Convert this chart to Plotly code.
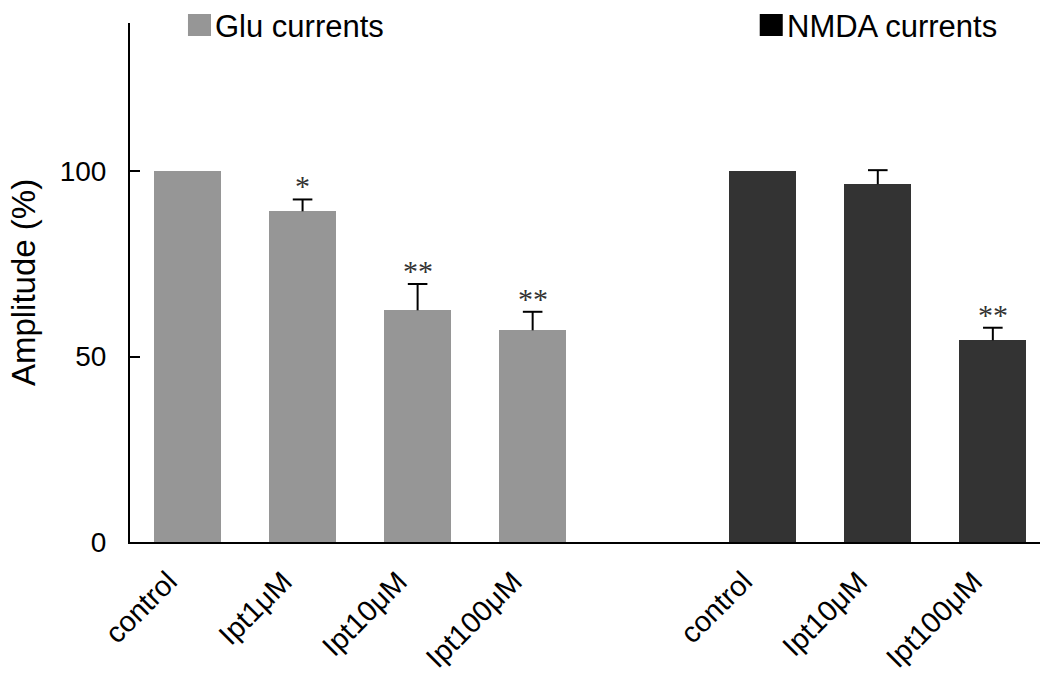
import plotly.graph_objects as go

# Glu-evoked currents (% of control)
glu_labels = ["control", "Ipt1μM", "Ipt10μM", "Ipt100μM"]
glu_values = [100, 89.2, 62.5, 57.1]
glu_errors = [None, 3.2, 7.1, 5.0]
glu_stars = ["", "*", "**", "**"]

# NMDA-evoked currents (% of control)
nmda_labels = ["control", "Ipt10μM", "Ipt100μM"]
nmda_values = [100, 96.5, 54.4]
nmda_errors = [None, 3.8, 3.4]
nmda_stars = ["", "", "**"]

y_ticks = [0, 50, 100]

GLU_COLOR = "#969696"
NMDA_COLOR = "#333333"
FONT = "Liberation Sans, Arial, sans-serif"
STAR_FONT = dict(family="Liberation Serif, Times New Roman, serif", size=30, color="#333333")

# slot positions: one empty slot separates the two groups
glu_x = list(range(len(glu_labels)))
nmda_x = [len(glu_labels) + 1 + i for i in range(len(nmda_labels))]

fig = go.Figure()
for xs, vals, color, name in ((glu_x, glu_values, GLU_COLOR, "Glu currents"),
                              (nmda_x, nmda_values, NMDA_COLOR, "NMDA currents")):
    fig.add_trace(go.Bar(x=xs, y=vals, width=0.58,
                         marker=dict(color=color, line_width=0),
                         name=name, showlegend=False))

# upward-only SEM bars: cap marker at the top, stem drawn down to the bar
for xs, vals, errs in ((glu_x, glu_values, glu_errors), (nmda_x, nmda_values, nmda_errors)):
    ex = [x for x, e in zip(xs, errs) if e]
    etop = [v + e for v, e in zip(vals, errs) if e]
    elen = [e for e in errs if e]
    fig.add_trace(go.Scatter(
        x=ex, y=etop, mode="markers",
        marker=dict(symbol="line-ew-open", size=14, color="black", line=dict(width=2, color="black")),
        error_y=dict(type="data", symmetric=False, array=[0] * len(ex), arrayminus=elen,
                     width=0, thickness=2, color="black"),
        showlegend=False, hoverinfo="skip",
    ))

# significance marks above the error bars
for xs, vals, errs, stars in ((glu_x, glu_values, glu_errors, glu_stars),
                              (nmda_x, nmda_values, nmda_errors, nmda_stars)):
    for x, v, e, s in zip(xs, vals, errs, stars):
        if s:
            fig.add_annotation(x=x, y=v + (e or 0), text=s, showarrow=False,
                               xanchor="center", yanchor="bottom", yshift=-5, font=STAR_FONT)

# legend: colour swatch + label for each series
for x0, color, label in ((0.0637, GLU_COLOR, "Glu currents"), (0.692, "#000000", "NMDA currents")):
    fig.add_shape(type="rect", xref="paper", yref="paper",
                  x0=x0, x1=x0 + 0.0253, y0=0.975, y1=1.0173,
                  fillcolor=color, line_width=0)
    fig.add_annotation(x=x0 + 0.0253 + 0.002, y=0.994, xref="paper", yref="paper",
                       text=label, showarrow=False, xanchor="left", yanchor="middle",
                       font=dict(family=FONT, size=31, color="black"))

fig.update_layout(
    width=1040, height=675,
    margin=dict(l=130, r=0, t=23, b=133),
    paper_bgcolor="white", plot_bgcolor="white",
    bargap=0, showlegend=False,
    font=dict(family=FONT, color="black"),
)
fig.update_xaxes(
    range=[-0.5, 7.41],
    tickmode="array", tickvals=glu_x + nmda_x, ticktext=glu_labels + nmda_labels,
    tickangle=-45, tickfont=dict(size=29), ticklabelshift=-19, ticklabelstandoff=9,
    showline=True, linecolor="black", linewidth=2, ticks="", showgrid=False, zeroline=False,
)
fig.update_yaxes(
    range=[0, 140], tickmode="array", tickvals=y_ticks,
    tickfont=dict(size=28), ticks="inside", ticklen=10, tickwidth=2, tickcolor="black",
    ticklabelstandoff=16,
    showline=True, linecolor="black", linewidth=2, showgrid=False, zeroline=False,
    title=dict(text="Amplitude (%)", font=dict(size=33), standoff=14),
)

fig.write_html("out.html")
